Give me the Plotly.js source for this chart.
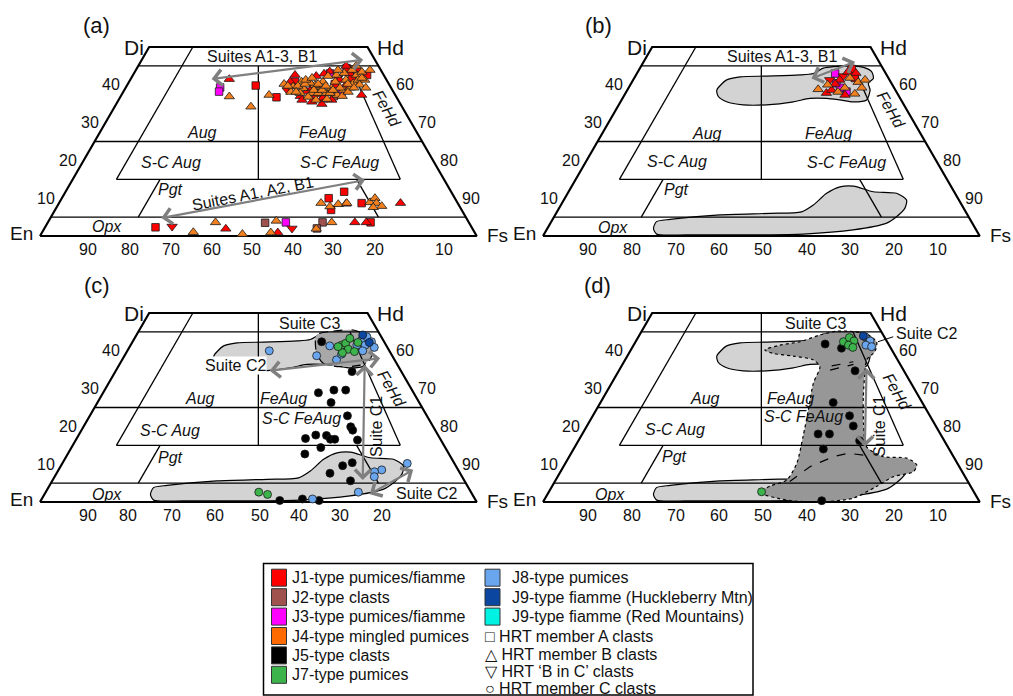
<!DOCTYPE html>
<html><head><meta charset="utf-8">
<script src="https://cdn.plot.ly/plotly-3.0.1.min.js"></script>
<style>html,body{margin:0;padding:0;background:#fff}</style>
</head><body><div id="chart" style="width:1013px;height:696px"></div>
<script>
// ================= DATA (pyroxene compositions, mol% Wo and En) =================
// Panel (a)
const aJ1sqWo = [39.8,36.7,42.6,44.4,40.8,10.0,6.9,11.7,8.7,2.3,3.6,38.1,40.2,41.8];
const aJ1sqEn = [30.7,27.5,3.8,7.6,21.2,28.9,29.9,24.5,22.0,72.4,22.5,17.3,12.4,7.7];
const aJ1trWo = [41.5,37.3,42.6,40.8,43.5,41.3,43.0,38.2,1.9,3.6,3.6,8.7,0.9,8.5,39.2,36.5,37.0,39.7,43.9,36.0,35.5,34.9,36.0,42.9,42.3,45.0];
const aJ1trEn = [35.9,7.7,20.3,22.3,11.9,10.7,7.5,19.8,56.5,26.1,23.5,13.1,45.1,25.7,18.1,17.0,21.9,10.3,5.2,22.0,20.0,18.0,15.2,13.5,15.6,7.4];
const aJ1invWo = [2.5,2.0,38.6,37.0,41.8];
const aJ1invEn = [68.5,41.3,24.1,18.5,10.9];
const aJ2sqWo = [3.5,3.6,2.0,36.4,37.0];
const aJ2sqEn = [46.7,33.5,35.6,16.9,14.2];
const aJ3sqWo = [39.3,38.2,3.6,43.0,37.9];
const aJ3sqEn = [39.1,39.9,41.9,12.1,12.0];
const aJ4trWo = [36.9,34.2,37.3,1.0,3.6,0.5,4.0,0.9,3.6,8.7,7.8,8.4,8.7,8.9,10.0,8.7,7.9,7.6,1.9,
  40.2,39.5,40.8,39.1,37.8,37.8,37.8,39.1,42.6,38.6,40.4,42.6,41.3,39.5,39.9,40.5,40.8,40.8,39.2,41.3,
  37.8,36.8,36.0,36.2,37.3,39.2,43.4,41.3,43.1,42.3,38.1,39.7,40.2,38.6,38.6,37.8,40.2,43.9,40.0,
  39.7,38.1,41.3,41.8,40.2,39.7,38.6,43.9,37.0,38.1,39.2,45.0,41.8,39.2,43.9];
const aJ4trEn = [38.2,34.6,28.9,64.4,58.0,53.4,43.9,46.7,31.4,31.3,29.7,27.5,25.4,20.0,18.3,18.6,17.8,19.9,35.8,
  24.0,22.3,19.7,20.2,18.9,17.4,15.5,13.7,10.8,11.2,8.1,6.2,6.5,16.1,17.1,17.9,14.8,12.0,11.7,9.3,
  21.5,20.2,18.8,16.2,13.3,9.4,4.6,5.0,8.8,12.9,23.5,21.1,19.2,18.0,16.1,14.7,9.4,6.6,6.8,
  23.4,22.3,18.5,16.8,16.2,14.7,13.6,9.8,12.3,10.4,8.5,5.1,5.4,5.8,2.5];
// Panel (b)
const bJ4trWo = [38.8,41.8,40.7,39.2,39.2,38.1,40.0,37.6,41.3];
const bJ4trEn = [17.6,8.8,7.5,7.4,11.3,13.4,14.8,9.8,5.6];
const bJ1trWo = [37.8,38.6,41.3,43.4,43.1,37.3,40.2];
const bJ1trEn = [16.2,14.6,11.4,8.5,6.8,12.2,13.0];
const bJ1sqWo = [41.8,44.2];
const bJ1sqEn = [7.7,7.2];
const bJ3sqWo = [43.0,40.4,38.2,39.2];
const bJ3sqEn = [11.6,12.6,11.4,12.4];
const bJ1invWo = [42.3,41.3];
const bJ1invEn = [10.1,13.7];
// Panel (c)
const cJ5Wo = [42.4,34.5,28.9,29.6,29.6,26.3,22.8,19.9,19.0,16.8,17.7,17.6,16.6,16.6,16.4,14.4,12.7,9.6,10.4,7.6,5.6,0.4,0.8,0.4];
const cJ5En = [14.3,11.3,21.8,17.9,15.2,20.2,18.2,18.9,18.9,30.8,28.0,25.6,25.2,24.2,19.1,28.5,33.0,25.9,23.3,29.8,26.1,44.9,39.5,35.9];
const cJ7Wo = [41.5,42.0,43.3,42.2,40.4,39.8,39.5,41.1,2.6,2.0];
const cJ7En = [10.2,9.0,7.4,6.1,9.2,8.1,11.0,11.2,48.6,46.9];
const cJ8Wo = [40.0,38.7,37.6,39.1,41.3,42.9,43.7,42.4,41.5,40.9,40.0,41.5,10.2,8.5,8.0,6.7,2.6,0.8];
const cJ8En = [27.5,17.3,13.3,11.4,13.0,4.9,3.3,2.9,4.8,3.0,6.1,6.7,10.8,17.5,19.4,20.1,25.8,37.2];
const cJ9hWo = [44.2,42.2];
const cJ9hEn = [4.0,3.5];
// Panel (d)
const dJ5Wo = [41.8,40.7,34.7,26.3,22.8,20.1,18.0,18.0,16.2,14.0,0.35];
const dJ5En = [14.5,11.3,11.2,20.4,18.4,18.9,28.0,25.4,19.4,28.8,36.0];
const dJ7Wo = [42.4,43.5,42.6,41.5,40.9,2.7];
const dJ7En = [10.0,8.1,7.5,9.3,8.6,48.6];
const dJ8Wo = [43.7,42.6,41.5,41.1];
const dJ8En = [4.4,3.8,5.3,4.2];
const dJ9hWo = [43.9];
const dJ9hEn = [4.7];
// Compositional fields (outlines)
const upperWo = [38.6,41.3,42.1,42.3,42.6,43.0,44.4,44.8,45.0,44.6,43.5,41.7,40.4,38.6,36.0,35.5,36.0,36.4,36.4,35.5,34.7,34.7,35.5,36.9];
const upperEn = [40.9,37.3,33.8,27.6,19.9,16.6,13.6,11.1,7.2,4.3,3.0,3.5,5.3,5.8,7.9,11.2,14.0,16.8,20.7,24.9,31.5,36.8,40.2,41.4];
const lowerWo = [2.0,3.8,4.4,5.6,6.0,6.4,8.2,11.3,13.0,13.2,11.7,11.3,9.5,7.3,5.1,3.4,1.6,0.5,0.3,0.3,0.5];
const lowerEn = [73.7,72.1,68.7,56.7,45.0,37.6,34.0,29.4,25.5,22.3,18.5,13.4,12.0,13.5,16.5,19.6,28.2,40.1,51.7,67.0,73.7];
const cDarkWo = [44.2,45.2,45.5,43.7,40.7,37.6,36.2,35.8,36.7,39.3];
const cDarkEn = [14.6,10.2,5.5,2.9,3.3,5.7,8.6,13.4,16.8,17.0];
const dDarkWo = [40.2,41.5,42.4,44.2,45.2,45.1,44.4,42.4,39.8,37.6,34.0,27.9,20.8,14.6,12.0,11.6,9.8,8.0,6.7,4.1,1.0,0.0,0.5,2.5,4.2,5.8,10.2,17.3,24.3,31.4,35.8,37.6,38.6,39.3];
const dDarkEn = [29.1,25.0,19.9,14.5,10.1,6.4,3.7,2.4,4.1,7.1,9.3,12.7,16.2,18.6,16.1,10.9,9.5,11.2,16.4,21.6,28.5,36.6,43.9,49.1,45.9,41.3,36.8,31.8,27.1,22.4,18.7,19.3,23.4,27.6];
const dDashLowWo = [5.4,9.35,12.0,12.9,12.4];
const dDashLowEn = [40.8,34.2,27.5,23.7,20.4];
// Tick labels
const woTicks = [40,30,20,10];
const fsTicks = [60,70,80,90];
const enTicks = [90,80,70,60,50,40,30,20,10];
// Legend entries
const legLeft = [['#ff0000','J1-type pumices/fiamme'],['#a0524f','J2-type clasts'],['#ff00ff','J3-type pumices/fiamme'],['#ff6a00','J4-type mingled pumices'],['#000000','J5-type clasts'],['#3cb44b','J7-type pumices']];
const legRight = [['#6aa6ee','J8-type pumices'],['#0b47a1','J9-type fiamme (Huckleberry Mtn)'],['#00f2e2','J9-type fiamme (Red Mountains)']];
const legSym = ['\u25A1 HRT member A clasts','\u25B3 HRT member B clasts','\u25BD HRT \u2018B in C\u2019 clasts','\u25CB HRT member C clasts'];

// ================= DRAWING =================
const W=1013,H=696,SX=4.367,SY=3.78;
const FONT='Liberation Sans, Arial, sans-serif';
const C={J1:'#ff0000',J2:'#a0524f',J3:'#ff00ff',J4:'#f2801f',J5:'#000000',J7:'#3cb44b',J8:'#6aa6ee',J9h:'#0b47a1'};
const PANELS=[{ox:40,oy:236},{ox:543,oy:236},{ox:40,oy:502},{ox:543,oy:502}];
const layout={width:W,height:H,autosize:false,margin:{l:0,r:0,t:0,b:0,pad:0},paper_bgcolor:'#ffffff',plot_bgcolor:'rgba(0,0,0,0)',showlegend:false,hovermode:false,annotations:[],shapes:[],font:{family:FONT,color:'#111'}};
PANELS.forEach((p,i)=>{
  const n=i===0?'':(i+1);
  layout['xaxis'+n]={domain:[(p.ox-40)/W,(p.ox+463)/W],range:[-40/SX,463/SX],visible:false,fixedrange:true,anchor:'y'+n};
  layout['yaxis'+n]={domain:[1-(p.oy+26)/H,1-(p.oy-236)/H],range:[-26/SY,236/SY],visible:false,fixedrange:true,anchor:'x'+n};
});
function ax(i){return i===0?['x','y']:['x'+(i+1),'y'+(i+1)];}
function X(wo,en){return 100-en-wo/2;}
const traces=[];
function pts(i,wo,en,sym,color,size){const [xa,ya]=ax(i);traces.push({type:'scatter',mode:'markers',xaxis:xa,yaxis:ya,x:wo.map((w,k)=>X(w,en[k])),y:wo.slice(),cliponaxis:false,hoverinfo:'skip',marker:{symbol:sym,size:size,color:color,line:{color:'#1a1a1a',width:0.8}}});}
function poly(i,wo,en,fill,dash){const [xa,ya]=ax(i);const x=wo.map((w,k)=>X(w,en[k]));const y=wo.slice();x.push(x[0]);y.push(y[0]);traces.push({type:'scatter',mode:'lines',xaxis:xa,yaxis:ya,x:x,y:y,fill:'toself',fillcolor:fill,hoverinfo:'skip',line:{color:'#000',width:1.2,dash:dash,shape:'spline',smoothing:0.7}});}
function segs(i,list,width,dash){const [xa,ya]=ax(i);const x=[],y=[];list.forEach(s=>{s.forEach(q=>{x.push(X(q[0],q[1]));y.push(q[0]);});x.push(null);y.push(null);});traces.push({type:'scatter',mode:'lines',xaxis:xa,yaxis:ya,x:x,y:y,hoverinfo:'skip',line:{color:'#000',width:width,dash:dash||'solid'}});}
function lab(i,text,x,y,o){const [xa,ya]=ax(i);o=o||{};layout.annotations.push(Object.assign({xref:xa,yref:ya,x:x,y:y,text:text,showarrow:false,font:{family:FONT,size:o.size||16,color:'#111'},xanchor:'center',yanchor:'middle'},o.extra||{}));}
function arrow(i,a,b){const [xa,ya]=ax(i);layout.annotations.push({xref:xa,yref:ya,axref:xa,ayref:ya,x:X(b[0],b[1]),y:b[0],ax:X(a[0],a[1]),ay:a[0],text:'',showarrow:true,arrowhead:4,startarrowhead:4,arrowside:'end+start',arrowsize:1.4,startarrowsize:1.4,arrowwidth:2.2,arrowcolor:'#7f7f7f',standoff:0,startstandoff:0});}

function frame2(i,topWo){
  segs(i,[[[45,55],[45,0]],[[25,75],[25,0]],[[5,95],[5,0]],[[15,75],[15,10]],[[15,75],[50,40]],[[15,10],[45,6.5]],[[5,75],[15,65]],[[5,20],[15,20]],[[15,42.5],[topWo,50-topWo/2]]],1.3);
  segs(i,[[[0,100],[0,0],[50,0],[50,50],[0,100]]],2.2);
}
function commonLabels(i,tag,bx,L){
  lab(i,tag,L.tag[0],L.tag[1],{size:22});
  lab(i,'Di',25,50,{size:21,extra:{xanchor:'right',xshift:-3}});
  lab(i,'Hd',75,50,{size:21,extra:{xanchor:'left',xshift:7}});
  lab(i,'En',0,0,{size:19,extra:{xanchor:'right',xshift:-5,yshift:3}});
  lab(i,'Fs',100,0,{size:19,extra:{xanchor:'left',xshift:8,yshift:1}});
  woTicks.forEach(w=>lab(i,String(w),w/2,w,{size:16,extra:{xanchor:'right',xshift:-5}}));
  fsTicks.forEach(f=>{const w=100-f;lab(i,String(f),100-w/2,w,{size:16,extra:{xanchor:'left',xshift:5}});});
  bx.forEach((xv,k)=>lab(i,String(enTicks[k]),xv,0,{size:16,extra:{yshift:-13}}));
  lab(i,'<i>Aug</i>',L.aug[0],L.aug[1]);
  lab(i,'<i>FeAug</i>',L.feaug[0],L.feaug[1]);
  lab(i,'<i>S-C Aug</i>',L.scaug[0],L.scaug[1]);
  lab(i,'<i>S-C FeAug</i>',L.scfeaug[0],L.scfeaug[1]);
  lab(i,'<i>Pgt</i>',L.pgt[0],L.pgt[1]);
  lab(i,'<i>Opx</i>',L.opx[0],L.opx[1]);
  lab(i,'<i>FeHd</i>',L.fehd[0],L.fehd[1],{extra:{textangle:60}});
}
const stdTicks=enTicks.map(e=>100-e+0.4);

// ---- Panel (a)
frame2(0,45);
pts(0,aJ2sqWo,aJ2sqEn,'square',C.J2,7.5);
pts(0,aJ3sqWo,aJ3sqEn,'square',C.J3,7.5);
pts(0,aJ1sqWo,aJ1sqEn,'square',C.J1,7.5);
pts(0,aJ1invWo,aJ1invEn,'triangle-down',C.J1,9);
pts(0,aJ1trWo,aJ1trEn,'triangle-up',C.J1,9);
pts(0,aJ4trWo,aJ4trEn,'triangle-up',C.J4,9);
commonLabels(0,'(a)',[11.1,20.6,29.9,39.3,48.5,58.0,67.2,76.7,92.4],{tag:[13,55.8],aug:[37.0,27.3],feaug:[64.7,27.3],scaug:[29.9,19.5],scfeaug:[68.5,19.5],pgt:[29.9,12.2],opx:[15.3,2.5],fehd:[79.4,33.8]});
lab(0,'Suites A1-3, B1',50.8,47.4);
lab(0,'Suites A1, A2, B1',48.8,11.2,{extra:{textangle:-11}});
arrow(0,[41.5,40.3],[46.6,2.7]);
arrow(0,[4.7,70.2],[14.8,18.2]);

// ---- Panel (b)
poly(1,upperWo,upperEn,'#d3d3d3','solid');
poly(1,lowerWo,lowerEn,'#d3d3d3','solid');
frame2(1,45);
pts(1,bJ3sqWo,bJ3sqEn,'square',C.J3,7.5);
pts(1,bJ1sqWo,bJ1sqEn,'square',C.J1,7.5);
pts(1,bJ1invWo,bJ1invEn,'triangle-down',C.J1,9);
pts(1,bJ1trWo,bJ1trEn,'triangle-up',C.J1,9);
pts(1,bJ4trWo,bJ4trEn,'triangle-up',C.J4,9);
commonLabels(1,'(b)',stdTicks,{tag:[12.7,55.8],aug:[37.5,27.2],feaug:[65.3,27.2],scaug:[30.6,19.7],scfeaug:[69.5,19.5],pgt:[30.6,12.2],opx:[16.1,2.2],fehd:[79.8,33.3]});
lab(1,'Suites A1-3, B1',54.7,47.4);
arrow(1,[41.5,18.1],[46.1,5.5]);

// ---- Panel (c)
poly(2,upperWo,upperEn,'#d3d3d3','solid');
poly(2,lowerWo,lowerEn,'#d3d3d3','solid');
poly(2,cDarkWo,cDarkEn,'#a8a8a8','dash');
frame2(2,50);
pts(2,cJ5Wo,cJ5En,'circle',C.J5,8);
pts(2,cJ8Wo,cJ8En,'circle',C.J8,8);
pts(2,cJ7Wo,cJ7En,'circle',C.J7,8);
pts(2,cJ9hWo,cJ9hEn,'circle',C.J9h,8);
commonLabels(2,'(c)',[11.1,20.2,30.2,40.1,50.4,59.2,68.7,78.2],{tag:[13,57.4],aug:[36.6,27.4],feaug:[55.7,27.4],scaug:[29.8,19.0],scfeaug:[59.9,22.1],pgt:[29.9,11.8],opx:[15.3,2.1],fehd:[80.5,30.1]});
lab(2,'Suite C3',61.8,47.3);
lab(2,'Suite C2',44.7,36.2,{extra:{bgcolor:'#ffffff',borderpad:0}});
lab(2,'Suite C1',77.1,20.0,{extra:{textangle:-90}});
lab(2,'Suite C2',88.5,2.3);
arrow(2,[34.7,30.4],[38.0,3.1]);
arrow(2,[36.7,7.3],[5.8,23.2]);
arrow(2,[1.85,23.9],[8.5,10.3]);

// ---- Panel (d)
poly(3,upperWo,upperEn,'#d3d3d3','solid');
poly(3,lowerWo,lowerEn,'#d3d3d3','solid');
poly(3,dDarkWo,dDarkEn,'#979797','dot');
segs(3,[dDashLowWo.map((w,k)=>[w,dDashLowEn[k]])],1.2,'dash');
segs(3,[[[34.9,16.8],[36.4,10.7]],[[36.0,15.9],[37.1,10.4]]],1.2,'dash');
frame2(3,50);
pts(3,dJ5Wo,dJ5En,'circle',C.J5,8);
pts(3,dJ7Wo,dJ7En,'circle',C.J7,8);
pts(3,dJ8Wo,dJ8En,'circle',C.J8,8);
pts(3,dJ9hWo,dJ9hEn,'circle',C.J9h,8);
commonLabels(3,'(d)',stdTicks,{tag:[12.5,57.4],aug:[37.1,27.4],feaug:[56.6,27.4],scaug:[30.2,19.2],scfeaug:[59.6,22.6],pgt:[30.2,12.0],opx:[15.3,1.9],fehd:[81.0,29.2]});
lab(3,'Suite C3',62.3,47.3);
lab(3,'Suite C2',80.4,44.6,{extra:{xanchor:'left'}});
lab(3,'Suite C1',77.2,19.9,{extra:{textangle:-90}});
(function(){const [xa,ya]=ax(3);traces.push({type:'scatter',mode:'lines',xaxis:xa,yaxis:ya,x:[80.2,76.7],y:[43.7,42.4],hoverinfo:'skip',line:{color:'#000',width:1}});})();
arrow(3,[35.8,8.0],[14.6,19.0]);

// ---- Legend (paper pixels)
const px=v=>v/W, py=v=>1-v/H;
layout.shapes.push({type:'rect',xref:'paper',yref:'paper',x0:px(263.5),x1:px(753),y0:py(695),y1:py(563.5),line:{color:'#000',width:1.5},fillcolor:'rgba(0,0,0,0)'});
const rowsL=[577.7,597.2,616.6,636,655.4,674.8];
legLeft.forEach((e,k)=>{
  layout.shapes.push({type:'rect',xref:'paper',yref:'paper',x0:px(271.5),x1:px(286.5),y0:py(rowsL[k]+8.5),y1:py(rowsL[k]-8.5),line:{color:'#333',width:1},fillcolor:e[0]});
  layout.annotations.push({xref:'paper',yref:'paper',x:px(290),y:py(rowsL[k]),text:e[1],showarrow:false,xanchor:'left',yanchor:'middle',font:{family:FONT,size:16,color:'#111'}});
});
legRight.forEach((e,k)=>{
  layout.shapes.push({type:'rect',xref:'paper',yref:'paper',x0:px(485),x1:px(500),y0:py(rowsL[k]+8.5),y1:py(rowsL[k]-8.5),line:{color:'#333',width:1},fillcolor:e[0]});
  layout.annotations.push({xref:'paper',yref:'paper',x:px(510),y:py(rowsL[k]),text:e[1],showarrow:false,xanchor:'left',yanchor:'middle',font:{family:FONT,size:16,color:'#111'}});
});
const rowsS=[636,654,671,688];
legSym.forEach((t,k)=>{
  layout.annotations.push({xref:'paper',yref:'paper',x:px(483),y:py(rowsS[k]),text:t,showarrow:false,xanchor:'left',yanchor:'middle',font:{family:FONT,size:16,color:'#111'}});
});

Plotly.newPlot('chart',traces,layout,{staticPlot:true,displayModeBar:false});
</script></body></html>
